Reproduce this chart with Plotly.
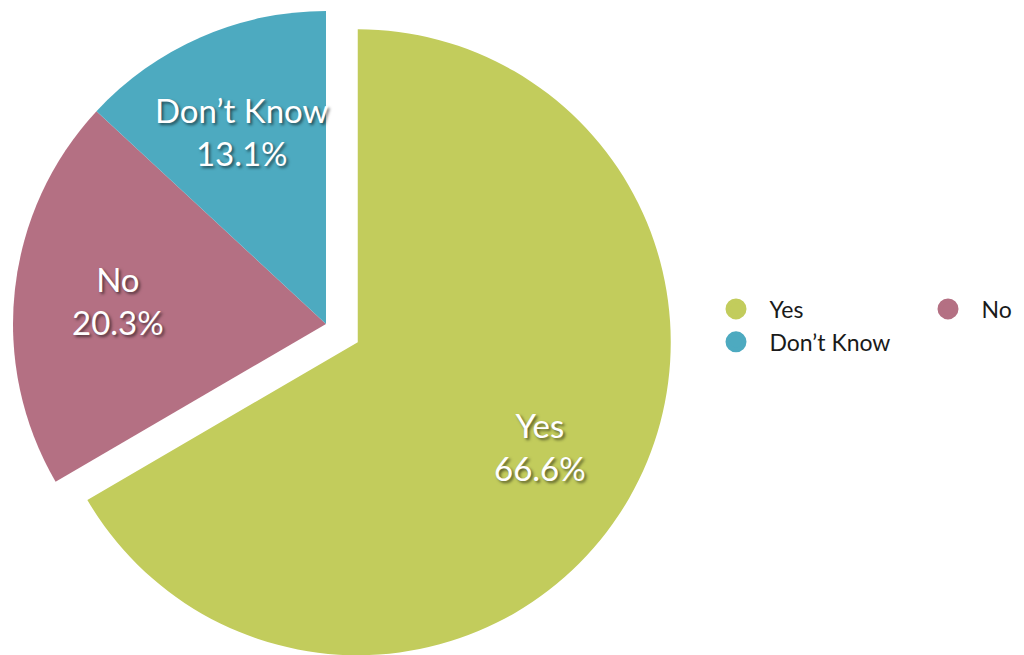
import math
import plotly.graph_objects as go

# ---- data ----
labels = ["Yes", "No", "Don\u2019t Know"]
values = [66.6, 20.3, 13.1]
colors = ["#C2CC5C", "#B47083", "#4DAAC0"]
pulls = [0.117, 0.0, 0.0]

# ---- layout constants ----
W, H = 1024, 655
MR = 340                      # right margin (legend lives there)
GW, GH = W - MR, H
CX, CY, R = 318, 316, 313     # pie centre / radius in px (page adds 8px body margin)
LABEL_R = 0.67                # label distance as fraction of radius
FONT = "Lato"
CLEAR = "rgba(0,0,0,0)"

total = sum(values)
mids = []
cum = 0.0
for v in values:
    frac = v / total
    mids.append((cum + frac / 2) * 2 * math.pi)   # clockwise from 12 o'clock
    cum += frac


def centre(i):
    d = pulls[i] * R
    return CX + d * math.sin(mids[i]), CY - d * math.cos(mids[i])


def domain(cx, cy):
    return dict(
        x=[max(0, (cx - R) / GW), min(1, (cx + R) / GW)],
        y=[max(0, (H - (cy + R)) / H), min(1, (H - (cy - R)) / H)],
    )


fig = go.Figure()

# un-pulled slices
fig.add_trace(go.Pie(
    labels=labels, values=values, sort=False, direction="clockwise", rotation=0,
    marker=dict(colors=[c if p == 0 else CLEAR for c, p in zip(colors, pulls)],
                line=dict(width=0)),
    textinfo="none", showlegend=False, domain=domain(CX, CY),
    hoverinfo="label+percent",
))

# pulled slices (each drawn in its own offset pie)
for i, p in enumerate(pulls):
    if p == 0:
        continue
    cx, cy = centre(i)
    fig.add_trace(go.Pie(
        labels=labels, values=values, sort=False, direction="clockwise", rotation=0,
        marker=dict(colors=[colors[j] if j == i else CLEAR for j in range(len(values))],
                    line=dict(width=0)),
        textinfo="none", showlegend=False, domain=domain(cx, cy),
        hoverinfo="label+percent",
    ))

# legend entries with round swatches
for lab, col in zip(labels, colors):
    fig.add_trace(go.Scatter(
        x=[None], y=[None], mode="markers", name=lab,
        marker=dict(symbol="circle", size=16, color=col, line=dict(width=5, color=col)),
        hoverinfo="skip",
    ))

# slice labels
for i, (lab, v) in enumerate(zip(labels, values)):
    cx, cy = centre(i)
    px = cx + LABEL_R * R * math.sin(mids[i])
    py = cy - LABEL_R * R * math.cos(mids[i])
    fig.add_annotation(
        x=px / GW, y=(H - py) / H, xref="paper", yref="paper",
        text=f"{lab}<br>{v:.1f}%", showarrow=False,
        xanchor="center", yanchor="middle",
        font=dict(family=FONT, size=33, color="white",
                  shadow="2px 2px 3px rgba(0,0,0,0.55)"),
    )

fig.update_layout(
    width=W, height=H,
    margin=dict(l=0, r=MR, t=0, b=0, autoexpand=False),
    paper_bgcolor="white", plot_bgcolor="white",
    xaxis=dict(visible=False), yaxis=dict(visible=False),
    showlegend=True,
    legend=dict(
        orientation="h", x=694.5 / GW, xanchor="left", y=(H - 317.5) / H, yanchor="middle",
        entrywidth=140, itemwidth=57, itemsizing="trace",
        font=dict(family=FONT, size=23, color="#1a1a1a"),
        bgcolor="rgba(0,0,0,0)",
    ),
)

fig.write_html("out.html")
